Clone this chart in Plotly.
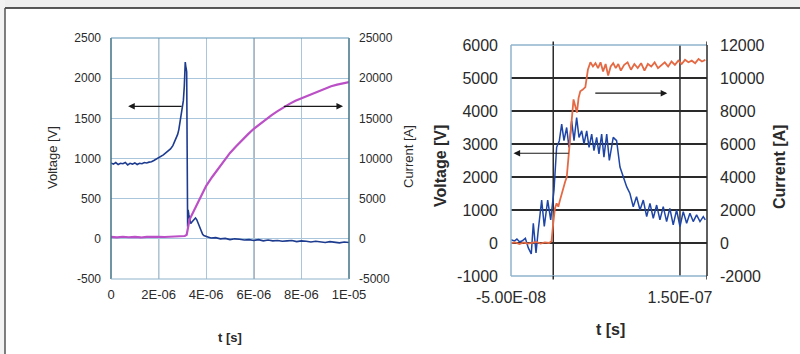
import plotly.graph_objects as go

# ---------------- Left chart data (time in microseconds) ----------------
lv_t_us = [0, 0.1, 0.2, 0.3, 0.4, 0.5, 0.6, 0.7, 0.8, 0.9, 1.0, 1.1, 1.2, 1.3, 1.4, 1.5,
           1.6, 1.7, 1.8, 1.9, 2.0, 2.1, 2.2, 2.3, 2.4, 2.5, 2.6, 2.7, 2.8, 2.85, 2.9,
           2.95, 3.0, 3.04, 3.08, 3.1, 3.12, 3.14, 3.16, 3.18, 3.2, 3.22, 3.24, 3.27,
           3.3, 3.35, 3.4, 3.45, 3.5, 3.55, 3.6, 3.65, 3.7, 3.75, 3.8, 3.85, 3.9, 4.0,
           4.1, 4.2, 4.4, 4.6, 4.8, 5.0, 5.2, 5.4, 5.6, 5.8, 6.0, 6.2, 6.4, 6.6, 6.8,
           7.0, 7.2, 7.4, 7.6, 7.8, 8.0, 8.2, 8.4, 8.6, 8.8, 9.0, 9.2, 9.4, 9.6, 9.8, 10.0]
lv_v = [945, 930, 950, 925, 940, 935, 950, 920, 940, 930, 945, 925, 940, 935, 950, 945,
        955, 960, 975, 990, 1010, 1030, 1045, 1070, 1095, 1120, 1160, 1220, 1300, 1360, 1450,
        1530, 1620, 1720, 1900, 2050, 2200, 2150, 2120, 2080, 1100, 150, 360, 300,
        240, 190, 210, 230, 250, 260, 240, 200, 150, 110, 80, 55, 40, 25,
        20, 10, 15, 0, 5, -10, 0, -5, -15, -10, -20, -10, -25, -15, -25,
        -20, -30, -25, -20, -35, -25, -30, -40, -30, -35, -45, -35, -40, -50, -40, -45]

lc_t_us = [0, 0.25, 0.5, 0.75, 1.0, 1.25, 1.5, 1.75, 2.0, 2.25, 2.5, 2.75, 3.0, 3.1,
           3.18, 3.22, 3.26, 3.3, 3.4, 3.5, 3.6, 3.75, 3.9, 4.0, 4.25, 4.5, 4.75, 5.0,
           5.25, 5.5, 5.75, 6.0, 6.25, 6.5, 6.75, 7.0, 7.25, 7.5, 7.75, 8.0, 8.25, 8.5,
           8.75, 9.0, 9.25, 9.5, 9.75, 10.0]
lc_a = [250, 180, 260, 200, 240, 170, 250, 210, 260, 230, 290, 260, 330, 350,
        500, 1200, 1900, 2400, 3000, 3600, 4200, 5100, 6000, 6600, 7700, 8700, 9800, 10700,
        11500, 12300, 13000, 13700, 14300, 14900, 15400, 15900, 16400, 16800, 17200, 17500, 17900, 18200,
        18500, 18700, 19000, 19200, 19350, 19500]

left_xticks = [0, 2e-6, 4e-6, 6e-6, 8e-6, 1e-5]
left_xtext = ["0", "2E-06", "4E-06", "6E-06", "8E-06", "1E-05"]
left_yticks = [-500, 0, 500, 1000, 1500, 2000, 2500]
left_ytext = ["-500", "0", "500", "1000", "1500", "2000", "2500"]
left_y2ticks = [-5000, 0, 5000, 10000, 15000, 20000, 25000]
left_y2text = ["-5000", "0", "5000", "10000", "15000", "20000", "25000"]

# ---------------- Right chart data (time in nanoseconds) ----------------
rv_t_ns = [-50, -46, -43, -40, -37, -33, -29.5, -26, -23.6, -20.4, -17.7, -13.7, -10.6,
           -6.6, -3, 0.9, 4, 7.2, 10, 12.7, 15.9, 18.6, 21.8, 24.6, 27.7, 30.5, 33.7,
           36.4, 39.6, 42.4, 45.5, 48.2, 51.4, 54.1, 57.3, 60, 63.3, 66.4, 71, 75, 79,
           83, 87, 90.8, 94.7, 98.6, 102.7, 106.6, 110.6, 114.5, 118.4, 122.4, 126.3,
           130.2, 134.2, 138, 142, 146, 150, 153.9, 157.9, 161.8, 165.7, 169.7, 173.7,
           177.6, 180]
rv_v = [100, 60, 120, 40, 60, 140, -150, -330, 600, -300, 400, 1300, 500,
        1300, 700, 1600, 2900, 3100, 3600, 3100, 3500, 2900, 3700, 3100, 3800, 3200, 3400,
        3000, 3400, 2900, 3300, 2800, 3200, 2700, 3300, 2600, 3300, 2500, 3200, 3100, 2300,
        2000, 1700, 1500, 1100, 1400, 1000, 1300, 800, 1200, 750, 1150, 700,
        1100, 650, 1050, 550, 1000, 500, 950, 600, 900, 650, 850, 650,
        800, 700]

rc_t_ns = [-50, -45, -40, -35, -30, -25, -20, -15, -10, -5, -2, 0, 2, 4, 6, 8, 10, 12,
           14, 16, 18, 20, 22, 24, 26, 28, 30, 32, 35, 38, 41, 44, 47, 50, 53, 56, 59,
           62, 65, 68, 71, 74, 77, 80, 84, 88, 92, 96, 100, 104, 108, 112, 116, 120,
           124, 128, 132, 136, 140, 144, 148, 152, 156, 160, 164, 168, 172, 176, 180]
rc_a = [0, 40, -60, 30, -40, 20, 60, -30, 40, 0, 100, 1200, 2100, 2400, 2200, 2600, 3000, 3400,
        3700, 4000, 5200, 6300, 7400, 8700, 8300, 7900, 8800, 9200, 9300, 9450, 10500, 10950, 10700, 10900,
        10600, 10950, 10400, 10850, 10150, 10700, 10900, 10600, 10850, 10450, 10800, 10950, 10500, 10850, 10600,
        10900, 10450, 10850, 10700, 10950, 10600, 10800, 10950, 10700, 11000, 10800, 11050, 10850, 11100, 10950,
        11050, 10900, 11150, 11000, 11100]

right_xticks = [-5e-8, 1.5e-7]
right_xtext = ["-5.00E-08", "1.50E-07"]
right_vlines = [0, 1.5e-7]
right_yticks = [-1000, 0, 1000, 2000, 3000, 4000, 5000, 6000]
right_ytext = ["-1000", "0", "1000", "2000", "3000", "4000", "5000", "6000"]
right_y2ticks = [-2000, 0, 2000, 4000, 6000, 8000, 10000, 12000]
right_y2text = ["-2000", "0", "2000", "4000", "6000", "8000", "10000", "12000"]

FONT = "Arial, Liberation Sans, sans-serif"
TXT = "#2a2a2a"

lv_t = [t * 1e-6 for t in lv_t_us]
lc_t = [t * 1e-6 for t in lc_t_us]
rv_t = [t * 1e-9 for t in rv_t_ns]
rc_t = [t * 1e-9 for t in rc_t_ns]

fig = go.Figure()
fig.add_trace(go.Scatter(x=lc_t, y=lc_a, xaxis="x", yaxis="y2", mode="lines",
                         line=dict(color="#bb50c6", width=2.2), showlegend=False))
fig.add_trace(go.Scatter(x=lv_t, y=lv_v, xaxis="x", yaxis="y", mode="lines",
                         line=dict(color="#1d3b8f", width=1.6), showlegend=False))
fig.add_trace(go.Scatter(x=rc_t, y=rc_a, xaxis="x2", yaxis="y4", mode="lines",
                         line=dict(color="#e46a45", width=1.8), showlegend=False))
fig.add_trace(go.Scatter(x=rv_t, y=rv_v, xaxis="x2", yaxis="y3", mode="lines",
                         line=dict(color="#1f46a6", width=1.5), showlegend=False))

W, H = 800, 354
def px(x): return x / W
def py(y): return 1 - y / H

L = dict(x0=111, x1=349, y0=38, y1=279)
R = dict(x0=511, x1=707, y0=45, y1=276)

common_tick = dict(showline=False, zeroline=False, ticks="", color=TXT, automargin=False)

fig.update_layout(
    width=W, height=H, margin=dict(l=0, r=0, t=0, b=0, pad=0, autoexpand=False),
    paper_bgcolor="white", plot_bgcolor="white",
    font=dict(family=FONT, color=TXT),
    xaxis=dict(domain=[px(L["x0"]), px(L["x1"])], range=[0, 1e-5], tickvals=left_xticks,
               ticktext=left_xtext, showgrid=True, gridcolor="#a9c6dc", gridwidth=1,
               tickfont=dict(size=13), anchor="y", ticklabelstandoff=6, **common_tick),
    yaxis=dict(domain=[py(L["y1"]), py(L["y0"])], range=[-500, 2500], tickvals=left_yticks,
               ticktext=left_ytext, showgrid=True, gridcolor="#a9c6dc", gridwidth=1,
               tickfont=dict(size=12), anchor="x", ticklabelstandoff=9, **common_tick),
    yaxis2=dict(overlaying="y", side="right", range=[-5000, 25000], tickvals=left_y2ticks,
                ticktext=left_y2text, showgrid=False, tickfont=dict(size=12), anchor="x",
                ticklabelstandoff=9, **common_tick),
    xaxis2=dict(domain=[px(R["x0"]), px(R["x1"])], range=[-5e-8, 1.82e-7], tickvals=right_xticks,
                ticktext=right_xtext, showgrid=False,
                tickfont=dict(size=16), anchor="y3", ticklabelstandoff=10, **common_tick),
    yaxis3=dict(domain=[py(R["y1"]), py(R["y0"])], range=[-1000, 6000], tickvals=right_yticks,
                ticktext=right_ytext, showgrid=True, gridcolor="#2a2a2a", gridwidth=1.5,
                tickfont=dict(size=16), anchor="x2", ticklabelstandoff=12, **common_tick),
    yaxis4=dict(overlaying="y3", side="right", range=[-2000, 12000], tickvals=right_y2ticks,
                ticktext=right_y2text, showgrid=False, tickfont=dict(size=16), anchor="x2",
                ticklabelstandoff=12, **common_tick),
)

shapes = []
# outer background strips and frame
shapes.append(dict(type="rect", xref="paper", yref="paper", x0=0, x1=1, y0=py(8), y1=1,
                   fillcolor="#efefef", line=dict(width=0), layer="below"))
shapes.append(dict(type="rect", xref="paper", yref="paper", x0=0, x1=px(5), y0=0, y1=1,
                   fillcolor="#f3f3f3", line=dict(width=0), layer="below"))
shapes.append(dict(type="line", xref="paper", yref="paper", x0=px(5), x1=1, y0=py(8), y1=py(8),
                   line=dict(color="#222222", width=1.5)))
shapes.append(dict(type="line", xref="paper", yref="paper", x0=px(5), x1=px(5), y0=0, y1=py(8),
                   line=dict(color="#555555", width=1.5)))
# left chart dark reference lines
for xv in [2e-6, 6e-6]:
    shapes.append(dict(type="line", xref="x", yref="y domain", x0=xv, x1=xv, y0=0, y1=1,
                       line=dict(color="#3d4a55", width=1.2), layer="below"))
shapes.append(dict(type="line", xref="x domain", yref="y", x0=0, x1=1, y0=1000, y1=1000,
                   line=dict(color="#3d4a55", width=1.2), layer="below"))
# left chart border
shapes.append(dict(type="line", xref="x domain", yref="y domain", x0=0, x1=0, y0=0, y1=1,
                   line=dict(color="#3f7184", width=1.5)))
shapes.append(dict(type="line", xref="x domain", yref="y domain", x0=1, x1=1, y0=0, y1=1,
                   line=dict(color="#3f7184", width=1.5)))
shapes.append(dict(type="line", xref="x domain", yref="y domain", x0=0, x1=1, y0=1, y1=1,
                   line=dict(color="#5f95b5", width=1.2)))
shapes.append(dict(type="line", xref="x domain", yref="y domain", x0=0, x1=1, y0=0, y1=0,
                   line=dict(color="#8fb3cc", width=1.2)))
# right chart dark vertical reference lines
for xv in right_vlines:
    shapes.append(dict(type="line", xref="x2", yref="y3 domain", x0=xv, x1=xv, y0=0, y1=1,
                       line=dict(color="#2a2a2a", width=1.5), layer="below"))
# right chart border
shapes.append(dict(type="line", xref="x2 domain", yref="y3 domain", x0=0, x1=0, y0=0, y1=1,
                   line=dict(color="#8fb3cc", width=1.5)))
shapes.append(dict(type="line", xref="x2 domain", yref="y3 domain", x0=0, x1=1, y0=1, y1=1,
                   line=dict(color="#8fb3cc", width=1.5)))
shapes.append(dict(type="line", xref="x2 domain", yref="y3 domain", x0=0, x1=1, y0=0, y1=0,
                   line=dict(color="#8fb3cc", width=1.5)))
shapes.append(dict(type="line", xref="x2 domain", yref="y3 domain", x0=1, x1=1, y0=0, y1=1,
                   line=dict(color="#2a2a2a", width=1.5)))
# small tick marks on right chart top/bottom
for xv in [0, 1.82e-7]:
    for (a, b) in [(-0.015, 0.0), (1.0, 1.015)]:
        shapes.append(dict(type="line", xref="x2", yref="y3 domain", x0=xv, x1=xv, y0=a, y1=b,
                           line=dict(color="#2a2a2a", width=1.5)))
fig.update_layout(shapes=shapes)

ann = []
def arrow(xa, ya, x_tail, x_head, y):
    ann.append(dict(x=x_head, y=y, ax=x_tail, ay=y, xref=xa, yref=ya, axref=xa, ayref=ya,
                    text="", showarrow=True, arrowhead=2, arrowsize=1.1, arrowwidth=1.2,
                    arrowcolor="#1a1a1a"))
arrow("x", "y", 3.03e-6, 0.72e-6, 1650)
arrow("x", "y", 7.2e-6, 9.75e-6, 1650)
arrow("x2", "y3", 2.0e-8, -4.7e-8, 2720)
arrow("x2", "y3", 4.8e-8, 1.35e-7, 4540)

def label(x, y, text, size, bold=False, angle=0):
    ann.append(dict(x=px(x), y=py(y), xref="paper", yref="paper", text=("<b>%s</b>" % text) if bold else text,
                    showarrow=False, textangle=angle, font=dict(size=size, color=TXT, family=FONT),
                    xanchor="center", yanchor="middle"))
label(52, 158, "Voltage [V]", 13, angle=-90)
label(408, 157, "Current [A]", 13, angle=-90)
label(230, 337, "t [s]", 13, bold=True)
label(440, 166, "Voltage [V]", 16, bold=True, angle=-90)
label(780, 167, "Current [A]", 16, bold=True, angle=-90)
label(610, 329, "t [s]", 16, bold=True)
fig.update_layout(annotations=ann)

fig.write_html("out.html", config={"displayModeBar": False},
               post_script="document.body.style.margin='0';document.body.style.overflow='hidden';")
